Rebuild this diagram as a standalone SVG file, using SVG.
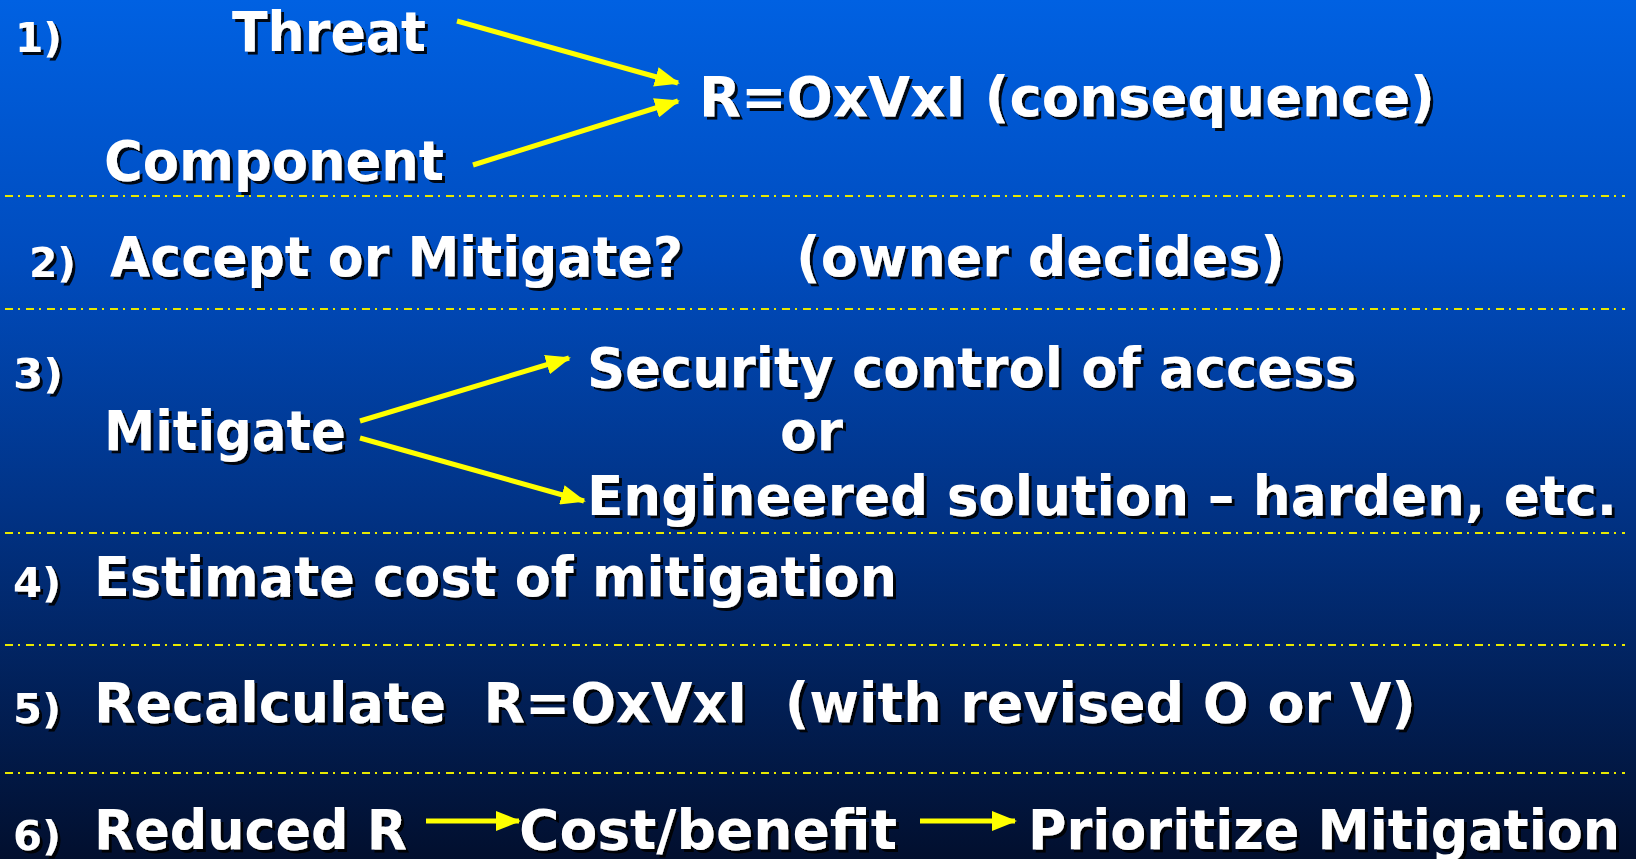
<svg xmlns="http://www.w3.org/2000/svg" width="1636" height="859" viewBox="0 0 1636 859">
<defs>
<linearGradient id="bg" x1="0" y1="0" x2="0" y2="1">
<stop offset="0" stop-color="#0061e2"/>
<stop offset="0.3" stop-color="#004cbe"/>
<stop offset="0.6" stop-color="#013284"/>
<stop offset="1" stop-color="#020f2e"/>
</linearGradient>
<filter id="sh" x="-10%" y="-30%" width="120%" height="160%">
<feDropShadow dx="3" dy="3" stdDeviation="0.4" flood-color="#000" flood-opacity="0.9"/>
</filter>
<marker id="ah" markerWidth="5" markerHeight="4" refX="4.6" refY="2" orient="auto" markerUnits="strokeWidth">
<path d="M0,0 L5,2 L0,4 Z" fill="#ffff00"/>
</marker>
</defs>
<style>
text{font-family:"DejaVu Sans","Verdana",sans-serif;font-weight:bold;fill:#fff;filter:url(#sh)}
.t{font-size:56px}
.n{font-size:40px}
.sep{stroke:#e8e800;stroke-width:2;stroke-dasharray:8 5 2 6;fill:none}
.arr{stroke:#ffff00;stroke-width:5;fill:none;marker-end:url(#ah)}
</style>
<rect x="0" y="0" width="1636" height="859" fill="url(#bg)"/>
<g id="separators">
<line class="sep" x1="5" y1="196" x2="1625" y2="196"/>
<line class="sep" x1="5" y1="309" x2="1625" y2="309"/>
<line class="sep" x1="5" y1="533" x2="1625" y2="533"/>
<line class="sep" x1="5" y1="645" x2="1625" y2="645"/>
<line class="sep" x1="5" y1="773" x2="1625" y2="773"/>
</g>
<g id="connectors">
<line class="arr" x1="457" y1="21" x2="678" y2="83"/>
<line class="arr" x1="473" y1="165" x2="678" y2="101"/>
<line class="arr" x1="360" y1="421" x2="569" y2="358"/>
<line class="arr" x1="360" y1="438" x2="584" y2="501"/>
<line class="arr" x1="426" y1="821" x2="519" y2="821"/>
<line class="arr" x1="920" y1="821" x2="1015" y2="821"/>
</g>
<g id="step1">
<text class="n" x="15" y="52" textLength="47" lengthAdjust="spacingAndGlyphs">1)</text>
<text id="threat" class="t" x="232" y="51" textLength="194" lengthAdjust="spacingAndGlyphs">Threat</text>
<text id="component" class="t" x="104" y="180" textLength="340" lengthAdjust="spacingAndGlyphs">Component</text>
<text id="risk" class="t" x="699" y="116" textLength="736" lengthAdjust="spacingAndGlyphs">R=OxVxI (consequence)</text>
</g>
<g id="step2">
<text class="n" x="29" y="277" textLength="47" lengthAdjust="spacingAndGlyphs">2)</text>
<text class="t" x="110" y="276" textLength="573" lengthAdjust="spacingAndGlyphs">Accept or Mitigate?</text>
<text class="t" x="796" y="276" textLength="489" lengthAdjust="spacingAndGlyphs">(owner decides)</text>
</g>
<g id="step3">
<text class="n" x="13" y="388" textLength="50" lengthAdjust="spacingAndGlyphs">3)</text>
<text id="mitigate" class="t" x="104" y="450" textLength="242" lengthAdjust="spacingAndGlyphs">Mitigate</text>
<text id="security" class="t" x="587" y="387" textLength="769" lengthAdjust="spacingAndGlyphs">Security control of access</text>
<text class="t" x="780" y="450" textLength="63" lengthAdjust="spacingAndGlyphs">or</text>
<text id="engineered" class="t" x="587" y="515" textLength="1030" lengthAdjust="spacingAndGlyphs">Engineered solution – harden, etc.</text>
</g>
<g id="step4">
<text class="n" x="13" y="597" textLength="48" lengthAdjust="spacingAndGlyphs">4)</text>
<text class="t" x="94" y="596" textLength="803" lengthAdjust="spacingAndGlyphs">Estimate cost of mitigation</text>
</g>
<g id="step5">
<text class="n" x="13" y="723" textLength="48" lengthAdjust="spacingAndGlyphs">5)</text>
<text class="t" x="94" y="722" xml:space="preserve" textLength="1322" lengthAdjust="spacingAndGlyphs">Recalculate  R=OxVxI  (with revised O or V)</text>
</g>
<g id="step6">
<text class="n" x="13" y="850" textLength="48" lengthAdjust="spacingAndGlyphs">6)</text>
<text id="reduced" class="t" x="94" y="849" textLength="313" lengthAdjust="spacingAndGlyphs">Reduced R</text>
<text id="costbenefit" class="t" x="519" y="849" textLength="378" lengthAdjust="spacingAndGlyphs">Cost/benefit</text>
<text id="prioritize" class="t" x="1028" y="849" textLength="592" lengthAdjust="spacingAndGlyphs">Prioritize Mitigation</text>
</g>
</svg>
